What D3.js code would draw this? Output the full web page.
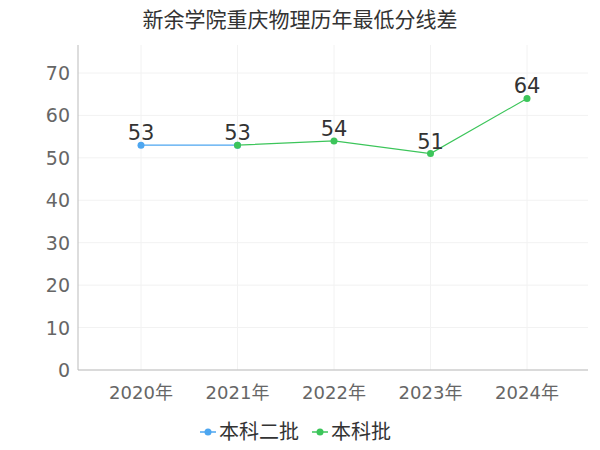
<!DOCTYPE html>
<html><head><meta charset="utf-8">
<script src="https://cdn.jsdelivr.net/npm/d3@7"></script>
<style>body{margin:0;background:#fff}text{font-family:"DejaVu Sans","Noto Sans CJK SC",sans-serif}</style>
</head><body>
<script>
var years = ["2020年", "2021年", "2022年", "2023年", "2024年"];
var seriesNames = ["本科二批", "本科批"];
var erpi = [53, 53, null, null, null];
var benke = [null, 53, 54, 51, 64];
var yTicks = [0, 10, 20, 30, 40, 50, 60, 70];
var colors = ["#4da6f0", "#3cc55a"];

var svg = d3.select("body").append("svg").attr("width", 600).attr("height", 450);
var x = d3.scalePoint().domain(years).range([141, 527]);
var y = d3.scaleLinear().domain([0, 70]).range([370, 73]);

svg.append("text").attr("x", 300).attr("y", 27).attr("text-anchor", "middle")
    .attr("font-size", 21).attr("fill", "#333").text("新余学院重庆物理历年最低分线差");

// grid
svg.selectAll(".gy").data(yTicks).enter().append("line")
    .attr("x1", 78).attr("x2", 588).attr("y1", function (d) { return y(d); }).attr("y2", function (d) { return y(d); })
    .attr("stroke", "#f2f2f2");
svg.selectAll(".gx").data(years).enter().append("line")
    .attr("y1", 45).attr("y2", 370).attr("x1", function (d) { return x(d); }).attr("x2", function (d) { return x(d); })
    .attr("stroke", "#f2f2f2");
svg.append("line").attr("x1", 78).attr("x2", 78).attr("y1", 45).attr("y2", 370).attr("stroke", "#bbb");
svg.append("line").attr("x1", 78).attr("x2", 588).attr("y1", 370).attr("y2", 370).attr("stroke", "#bbb");

svg.selectAll(".yl").data(yTicks).enter().append("text")
    .attr("x", 70).attr("y", function (d) { return y(d) + 7; }).attr("text-anchor", "end")
    .attr("font-size", 19).attr("fill", "#666").text(function (d) { return d; });
svg.selectAll(".xl").data(years).enter().append("text")
    .attr("x", function (d) { return x(d); }).attr("y", 399).attr("text-anchor", "middle")
    .attr("font-size", 18).attr("fill", "#666").text(function (d) { return d; });

var line = d3.line().defined(function (d) { return d != null; })
    .x(function (d, i) { return x(years[i]); }).y(function (d) { return y(d); });

[erpi, benke].forEach(function (s, k) {
    svg.append("path").attr("d", line(s)).attr("fill", "none").attr("stroke", colors[k]).attr("stroke-width", 1.2);
    s.forEach(function (v, i) {
        if (v == null) return;
        svg.append("circle").attr("cx", x(years[i])).attr("cy", y(v)).attr("r", 3.5).attr("fill", colors[k]);
        if (k == 1 || i == 0) {
            svg.append("text").attr("x", x(years[i])).attr("y", y(v) - 5).attr("text-anchor", "middle")
                .attr("font-size", 21).attr("fill", "#333").text(v);
        }
    });
});

// legend
var lx = [200, 312];
seriesNames.forEach(function (n, k) {
    var g = svg.append("g").attr("transform", "translate(" + lx[k] + ",432)");
    g.append("line").attr("x1", 0).attr("x2", 16).attr("stroke", colors[k]).attr("stroke-width", 1.5);
    g.append("circle").attr("cx", 8).attr("r", 3.5).attr("fill", colors[k]);
    g.append("text").attr("x", 19).attr("y", 7).attr("font-size", 20).attr("fill", "#333").text(n);
});
</script>
</body></html>
